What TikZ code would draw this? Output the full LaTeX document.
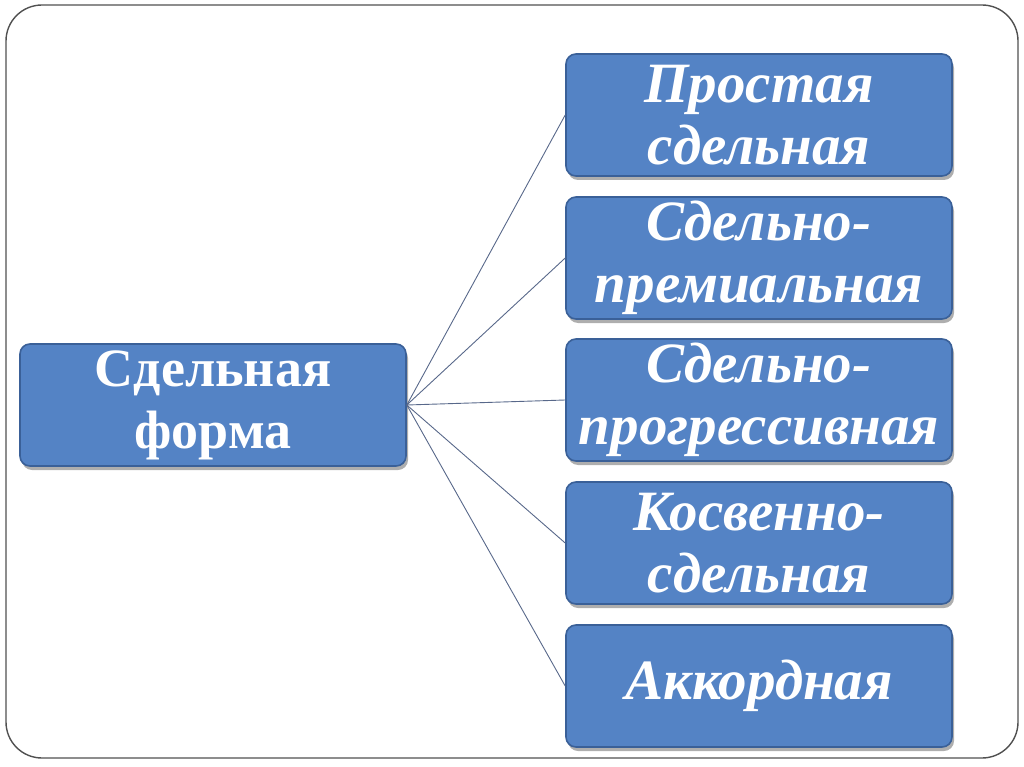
\documentclass[tikz,border=0pt]{standalone}
\usepackage{fontspec}
\setmainfont{Liberation Serif}
\usetikzlibrary{shadows}

\definecolor{boxfill}{RGB}{84,131,197}
\definecolor{boxline}{RGB}{58,96,152}
\definecolor{linkcol}{RGB}{88,104,138}
\definecolor{framecol}{RGB}{80,80,80}

\tikzset{
  formbox/.style={draw=boxline,line width=1.6pt,fill=boxfill,rounded corners=10pt,
    minimum width=386pt,minimum height=122pt,align=center,text=white,
    font=\bfseries\fontsize{54}{62}\selectfont,
    drop shadow={shadow xshift=2pt,shadow yshift=-4pt,opacity=0.45,fill=black!70}},
  kindbox/.style={formbox,font=\bfseries\itshape\fontsize{57}{62}\selectfont},
  link/.style={draw=linkcol,line width=0.9pt}
}

\begin{document}
\begin{tikzpicture}[x=1pt,y=-1pt]
  \useasboundingbox (0,0) rectangle (1024,767);
  % outer frame
  \draw[framecol,line width=1.4pt,rounded corners=36pt] (6,5) rectangle (1018,758);
  % root
  \node[formbox] (sdel) at (213,405) {Сдельная\\форма};
  % kinds
  \node[kindbox] (prost) at (759,115) {Простая\\сдельная};
  \node[kindbox] (prem) at (759,258) {Сдельно-\\премиальная};
  \node[kindbox] (progr) at (759,400) {Сдельно-\\прогрессивная};
  \node[kindbox] (kosv) at (759,543) {Косвенно-\\сдельная};
  \node[kindbox] (akk) at (759,686) {Аккордная};
  % links
  \foreach \k in {prost,prem,progr,kosv,akk}
    \draw[link] (sdel.east) -- (\k.west);
\end{tikzpicture}
\end{document}
